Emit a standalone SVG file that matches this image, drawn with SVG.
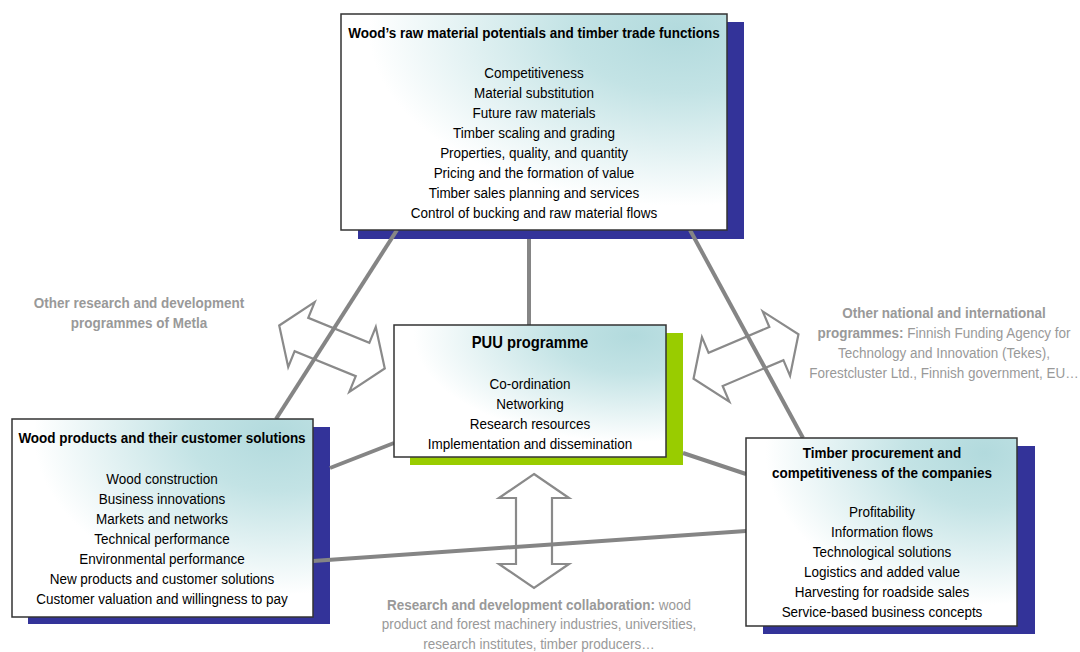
<svg xmlns="http://www.w3.org/2000/svg" width="1080" height="652" viewBox="0 0 1080 652">
<style>
.t{font-family:"Liberation Sans",Arial,sans-serif;font-size:15.5px;fill:#000;text-anchor:middle}
.b{font-weight:bold}
.g{fill:#999999}
.box{stroke:#333333;stroke-width:1.5;fill:url(#grad)}
.sh{fill:#333399}
.ln{stroke:#858585;stroke-width:4;fill:none;stroke-linecap:butt}
.ar{fill:#ffffff;stroke:#8a8a8a;stroke-width:2.2;stroke-linejoin:miter}
</style>
<defs>
<radialGradient id="grad" cx="0.88" cy="0.08" r="0.95" fx="0.88" fy="0.08">
<stop offset="0" stop-color="#b2dadd"/>
<stop offset="0.3" stop-color="#c3e3e5"/>
<stop offset="0.85" stop-color="#ffffff"/>
</radialGradient>
<path id="dbl" d="M-57,0 L-33,-35 L-33,-18 L33,-18 L33,-35 L57,0 L33,35 L33,18 L-33,18 L-33,35 Z"/>
</defs>
<rect width="1080" height="652" fill="#ffffff"/>

<g id="shadows">
<rect class="sh" x="358" y="22" width="386" height="217"/>
<rect class="sh" x="28" y="427" width="302" height="197"/>
<rect x="410" y="333" width="273" height="132" fill="#99cc00"/>
<rect class="sh" x="763" y="446" width="272" height="188"/>
</g>

<g id="arrows">
<use href="#dbl" class="ar" transform="translate(332,347) rotate(22.2)"/>
<use href="#dbl" class="ar" transform="translate(746,356.5) rotate(-23)"/>
<use href="#dbl" class="ar" transform="translate(534,531) rotate(90)"/>
</g>

<g id="connectors">
<line class="ln" x1="397" y1="230" x2="276" y2="419"/>
<line class="ln" x1="529" y1="239" x2="529" y2="325"/>
<line class="ln" x1="690" y1="230" x2="803" y2="438"/>
<line class="ln" x1="394" y1="443" x2="330" y2="468"/>
<line class="ln" x1="683" y1="453" x2="746" y2="474"/>
<line class="ln" x1="313" y1="561" x2="746" y2="531"/>
</g>

<g id="node-top">
<rect class="box" x="341" y="14" width="386" height="216"/>
<g transform="translate(534,0) scale(0.87,1)">
<text class="t b" x="0" y="38">Wood’s raw material potentials and timber trade functions</text>
<text class="t" x="0" y="78">Competitiveness</text>
<text class="t" x="0" y="98">Material substitution</text>
<text class="t" x="0" y="118">Future raw materials</text>
<text class="t" x="0" y="138">Timber scaling and grading</text>
<text class="t" x="0" y="158">Properties, quality, and quantity</text>
<text class="t" x="0" y="178">Pricing and the formation of value</text>
<text class="t" x="0" y="198">Timber sales planning and services</text>
<text class="t" x="0" y="218">Control of bucking and raw material flows</text>
</g>
</g>

<g id="node-puu">
<rect class="box" x="394" y="325" width="272" height="132"/>
<g transform="translate(530,0) scale(0.87,1)">
<text class="t b" x="0" y="348" style="font-size:17px">PUU programme</text>
<text class="t" x="0" y="389">Co-ordination</text>
<text class="t" x="0" y="409">Networking</text>
<text class="t" x="0" y="429">Research resources</text>
<text class="t" x="0" y="449">Implementation and dissemination</text>
</g>
</g>

<g id="node-left">
<rect class="box" x="12" y="419" width="301" height="198"/>
<g transform="translate(162,0) scale(0.87,1)">
<text class="t b" x="0" y="443">Wood products and their customer solutions</text>
<text class="t" x="0" y="484">Wood construction</text>
<text class="t" x="0" y="504">Business innovations</text>
<text class="t" x="0" y="524">Markets and networks</text>
<text class="t" x="0" y="544">Technical performance</text>
<text class="t" x="0" y="564">Environmental performance</text>
<text class="t" x="0" y="584">New products and customer solutions</text>
<text class="t" x="0" y="604">Customer valuation and willingness to pay</text>
</g>
</g>

<g id="node-right">
<rect class="box" x="746" y="438" width="271" height="188"/>
<g transform="translate(882,0) scale(0.87,1)">
<text class="t b" x="0" y="458">Timber procurement and</text>
<text class="t b" x="0" y="478">competitiveness of the companies</text>
<text class="t" x="0" y="517">Profitability</text>
<text class="t" x="0" y="537">Information flows</text>
<text class="t" x="0" y="557">Technological solutions</text>
<text class="t" x="0" y="577">Logistics and added value</text>
<text class="t" x="0" y="597">Harvesting for roadside sales</text>
<text class="t" x="0" y="617">Service-based business concepts</text>
</g>
</g>

<g id="label-metla">
<g transform="translate(139,0) scale(0.87,1)">
<text class="t b g" x="0" y="308">Other research and development</text>
<text class="t b g" x="0" y="328">programmes of Metla</text>
</g>
</g>

<g id="label-national">
<g transform="translate(944,0) scale(0.87,1)">
<text class="t b g" x="0" y="318">Other national and international</text>
<text class="t g" x="0" y="338"><tspan class="b">programmes:</tspan> Finnish Funding Agency for</text>
<text class="t g" x="0" y="358">Technology and Innovation (Tekes),</text>
<text class="t g" x="0" y="378">Forestcluster Ltd., Finnish government, EU…</text>
</g>
</g>

<g id="label-collab">
<g transform="translate(539,0) scale(0.87,1)">
<text class="t g" x="0" y="610"><tspan class="b">Research and development collaboration:</tspan> wood</text>
<text class="t g" x="0" y="629">product and forest machinery industries, universities,</text>
<text class="t g" x="0" y="649">research institutes, timber producers…</text>
</g>
</g>
</svg>
